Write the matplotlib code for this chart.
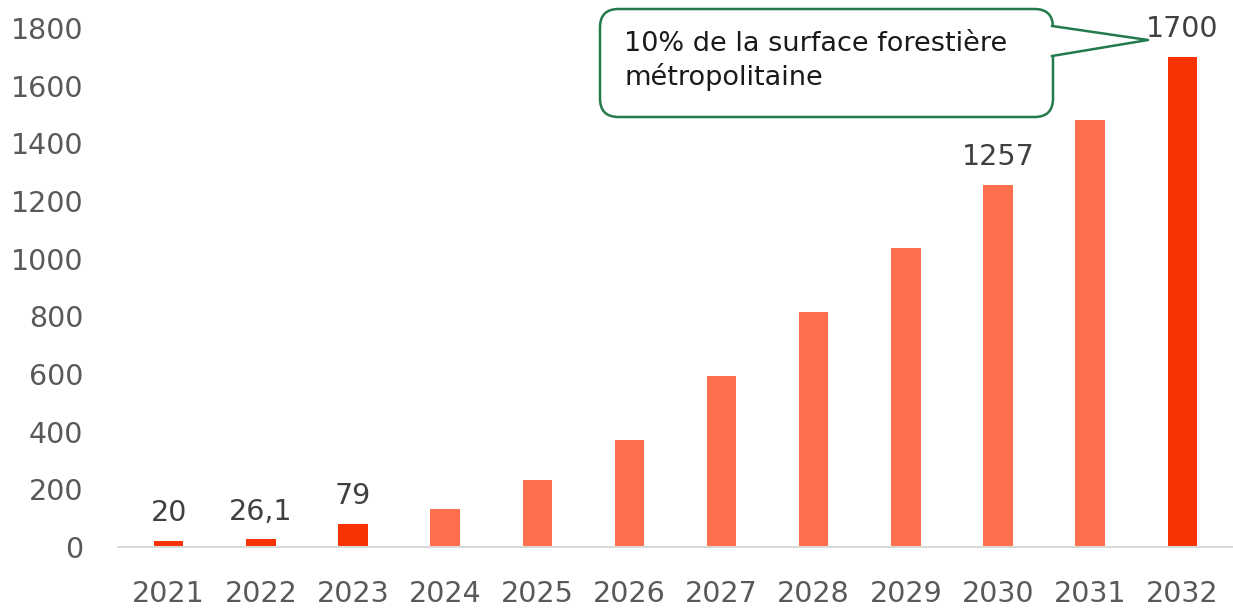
import matplotlib
matplotlib.use("Agg")
import matplotlib.pyplot as plt
from matplotlib.patches import FancyBboxPatch
from matplotlib.lines import Line2D

# données
annees = ["2021", "2022", "2023", "2024", "2025", "2026",
          "2027", "2028", "2029", "2030", "2031", "2032"]
valeurs = [20, 26.1, 79, 133, 233, 371, 594, 815, 1037, 1257, 1480, 1700]
etiquettes = {0: "20", 1: "26,1", 2: "79", 9: "1257", 11: "1700"}
surlignes = [0, 1, 2, 11]
yticks = [0, 200, 400, 600, 800, 1000, 1200, 1400, 1600, 1800]
note = "10% de la surface forestière\nmétropolitaine"

rouge = "#F83200"
orange = "#FF6E4D"
vert = "#237A4B"

plt.rcParams['font.family'] = ['DejaVu Sans']

W, H = 1233, 610
fig = plt.figure(figsize=(W / 100, H / 100), dpi=100)
ax = fig.add_axes([118 / W, 1 - 547 / H, (W - 118) / W, (547 - 28) / H])

couleurs = [rouge if i in surlignes else orange for i in range(len(valeurs))]
x = list(range(len(annees)))
ax.bar(x, valeurs, width=0.32, color=couleurs)

for i, txt in etiquettes.items():
    ax.annotate(txt, (x[i], valeurs[i]), xytext=(0, 10), textcoords="offset points",
                ha="center", va="bottom", fontsize=20.5, color="#404040",
                annotation_clip=False)

ax.set_xlim(-0.55, len(annees) - 0.45)
ax.set_ylim(0, 1800)
ax.set_yticks(yticks)
ax.set_xticks(x)
ax.set_xticklabels(annees)
ax.tick_params(axis="both", length=0, labelsize=20.5, labelcolor="#595959")
ax.tick_params(axis="x", pad=24)
ax.tick_params(axis="y", pad=25)
for s in ["top", "right", "left"]:
    ax.spines[s].set_visible(False)
ax.spines["bottom"].set_color("#D9D9D9")
ax.spines["bottom"].set_linewidth(1.5)


# bulle de commentaire (coordonnées pixels -> figure)
def fx(px):
    return px / W


def fy(py):
    return 1 - py / H


boite = FancyBboxPatch((fx(600), fy(117)), fx(1053) - fx(600), fy(9) - fy(117),
                       boxstyle="round,pad=0,rounding_size=0.015",
                       transform=fig.transFigure, facecolor="white",
                       edgecolor=vert, linewidth=1.8, mutation_aspect=W / H)
fig.add_artist(boite)
fig.add_artist(Line2D([fx(1053), fx(1053)], [fy(27), fy(55)], transform=fig.transFigure,
                      color="white", linewidth=3))
fig.add_artist(Line2D([fx(1052), fx(1148), fx(1052)], [fy(26), fy(40), fy(56)],
                      transform=fig.transFigure, color=vert, linewidth=1.8))
fig.text(fx(624), fy(61), note, fontsize=19.5, color="#1a1a1a", ha="left", va="center",
         linespacing=1.3)

fig.savefig("out.png", dpi=100)
